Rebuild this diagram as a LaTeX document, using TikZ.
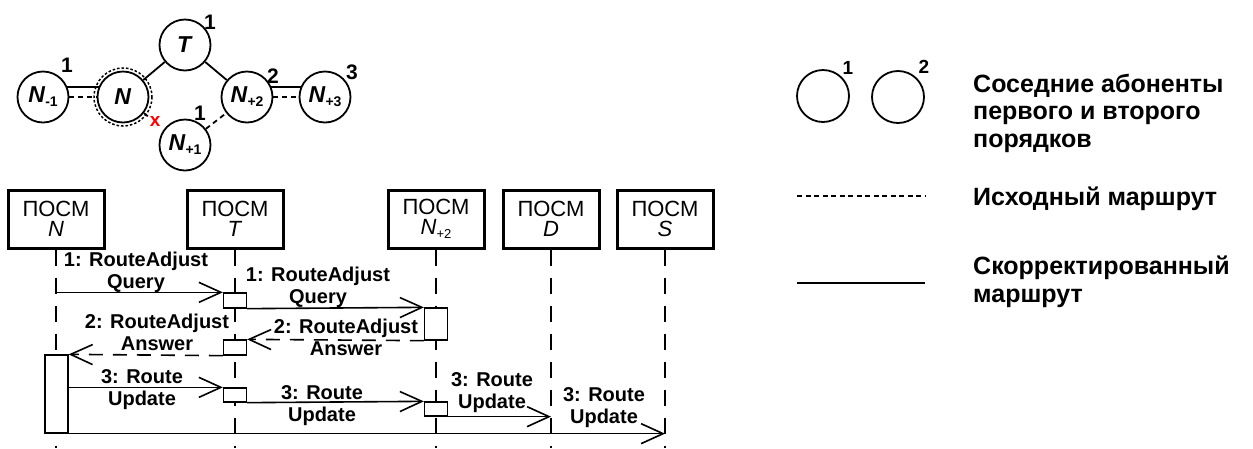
\documentclass[tikz,border=0pt]{standalone}
\usepackage{fontspec}
\setmainfont{Liberation Sans}
\usetikzlibrary{arrows.meta,calc}
\newcommand\gsub[2][14]{\raisebox{-4pt}{\fontsize{#1}{#1}\selectfont #2}}
\begin{document}
\begin{tikzpicture}[x=1pt,y=-1pt,
  gnode/.style={circle,draw,line width=1.8pt,minimum size=51pt,inner sep=0pt,font=\bfseries\fontsize{23}{23}\selectfont},
  numlbl/.style={font=\bfseries\fontsize{21}{21}\selectfont,inner sep=0pt},
  solidlink/.style={line width=1.8pt},
  oldlink/.style={line width=1.8pt,dash pattern=on 5pt off 4pt},
  objbox/.style={draw,line width=3pt,minimum width=96pt,minimum height=58pt,inner sep=0pt,align=center,font=\fontsize{22}{20}\selectfont},
  lifeline/.style={line width=1.6pt,dash pattern=on 16pt off 12pt},
  actbox/.style={draw,fill=white,line width=1.3pt,minimum width=23pt,inner sep=0pt},
  msgarrow/.style={line width=1.6pt,-{Straight Barb[length=22pt,width=20pt]}},
  replyarrow/.style={msgarrow,dash pattern=on 14pt off 10pt},
  msglabel/.style={font=\bfseries\fontsize{20}{22}\selectfont,align=center,inner sep=0pt,anchor=base},
  legtext/.style={font=\bfseries\fontsize{25}{27.5}\selectfont,align=left,inner sep=0pt,anchor=base west},
]
\useasboundingbox (0,0) rectangle (1253,448);

% ---------- network graph ----------
\node[gnode] (Nm1) at (43,97) {\textit{N}\gsub{-1}};
\node[gnode] (N) at (123,97) {\textit{N}};
\node[gnode] (T) at (185,45) {\textit{T}};
\node[gnode] (N1) at (185,145) {\textit{N}\gsub{+1}};
\node[gnode] (N2) at (247,97) {\textit{N}\gsub{+2}};
\node[gnode] (N3) at (325,97) {\textit{N}\gsub{+3}};
\draw[line width=1.5pt,dash pattern=on 2.5pt off 2pt] (N.center) circle[radius=29];

\draw[solidlink] (Nm1.23) -- (N.157);
\draw[oldlink] (Nm1.east) -- (N.west);
\draw[solidlink] (N2.23) -- (N3.157);
\draw[oldlink] (N2.east) -- (N3.west);
\draw[solidlink] (N) -- (T);
\draw[solidlink] (T) -- (N2);
\node[text=red,font=\bfseries\fontsize{19}{19}\selectfont,inner sep=0pt] (cut) at ($(N)!0.52!(N1)$) {x};
\draw[oldlink] (N) -- (cut);
\draw[oldlink] (N1) -- (N2);

\node[numlbl] at (67,65) {1};
\node[numlbl] at (210,22) {1};
\node[numlbl] at (273,76) {2};
\node[numlbl] at (352,72) {3};
\node[numlbl] at (200,113) {1};

% ---------- sequence diagram ----------
\coordinate (bottom) at (0,448);
\node[objbox] (oN) at (56,219) {ПОСМ\\\textit{N}};
\node[objbox] (oT) at (235,219) {ПОСМ\\\textit{T}};
\node[objbox] (oN2) at (436,219) {ПОСМ\\\textit{N}\gsub[13]{+2}};
\node[objbox] (oD) at (551,219) {ПОСМ\\\textit{D}};
\node[objbox] (oS) at (665,219) {ПОСМ\\\textit{S}};

\foreach \o in {oN,oT,oN2,oD,oS}
  \draw[lifeline] (\o.south) -- (\o.south |- bottom);

\node[actbox,minimum height=15pt] (aT1) at (235,300.5) {};
\node[actbox,minimum height=32pt] (aN2a) at (436,324) {};
\node[actbox,minimum height=15pt] (aT2) at (235,347.5) {};
\node[actbox,minimum height=78pt] (aN) at (56.5,394) {};
\node[actbox,minimum height=14pt] (aT3) at (235,395) {};
\node[actbox,minimum height=14pt] (aN2b) at (436,409) {};

\draw[msgarrow] (aT1.north west -| oN.south) -- (aT1.north west);
\draw[msgarrow] (aT1.south east) -- (aN2a.north west);
\draw[replyarrow] (aN2a.south west) -- (aT2.north east);
\draw[replyarrow] (aT2.south west) -- (aN.north east);
\draw[msgarrow] (aT3.north west -| aN.east) -- (aT3.north west);
\draw[msgarrow] (aT3.south east) -- (aN2b.north west);
\draw[msgarrow] (aN2b.south east) -- (aN2b.south east -| oD.south);
\draw[msgarrow] (aN.south east) -- (aN.south east -| oS.south);

\node[msglabel] at (136,288) {1: RouteAdjust\\Query};
\node[msglabel] at (318,303) {1: RouteAdjust\\Query};
\node[msglabel] at (157,350) {2: RouteAdjust\\Answer};
\node[msglabel] at (346,355) {2: RouteAdjust\\Answer};
\node[msglabel] at (142,405) {3: Route\\Update};
\node[msglabel] at (322,421) {3: Route\\Update};
\node[msglabel] at (492,408) {3: Route\\Update};
\node[msglabel] at (604,423) {3: Route\\Update};

% ---------- legend ----------
\node[circle,draw,line width=1.8pt,minimum size=52pt,inner sep=0pt] (L1) at (823,96) {};
\node[circle,draw,line width=1.8pt,minimum size=52pt,inner sep=0pt] (L2) at (898,97) {};
\node[numlbl,font=\bfseries\fontsize{19}{19}\selectfont] at (848,68) {1};
\node[numlbl,font=\bfseries\fontsize{19}{19}\selectfont] at (924,67) {2};
\coordinate (d1) at (797,196);
\coordinate (d2) at (925,196);
\draw[line width=1.8pt,dash pattern=on 5pt off 3.5pt] (d1) -- (d2);
\coordinate (s1) at (797,283);
\coordinate (s2) at (925,283);
\draw[line width=2.2pt] (s1) -- (s2);
\node[legtext] at (973,147) {Соседние абоненты\\первого и второго\\порядков};
\node[legtext] at (973,205) {Исходный маршрут};
\node[legtext] at (973,302) {Скорректированный\\маршрут};
\end{tikzpicture}
\end{document}
